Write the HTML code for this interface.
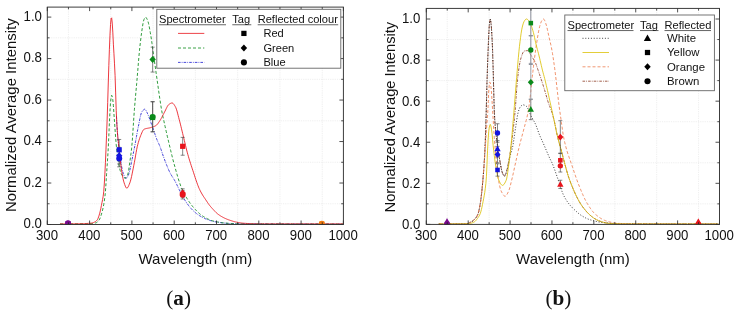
<!DOCTYPE html>
<html><head><meta charset="utf-8"><title>Spectra</title>
<style>
html,body{margin:0;padding:0;background:#fff;}
body{width:737px;height:315px;overflow:hidden;}
svg{display:block;will-change:transform;}
text{font-family:"Liberation Sans",sans-serif;fill:#111;}
.tk{font-size:13.2px;}
.ax{font-size:15px;}
.lg{font-size:11.1px;}
.cap{font-family:"Liberation Serif",serif;font-size:21.2px;}
</style></head><body>
<svg width="737" height="315" viewBox="0 0 737 315">
<rect width="737" height="315" fill="#fff"/>
<clipPath id="ca"><rect x="47.30" y="7.10" width="296.10" height="217.70"/></clipPath>
<path d="M68.45 7.10 V224.50 M110.75 7.10 V224.50 M153.05 7.10 V224.50 M195.35 7.10 V224.50 M237.65 7.10 V224.50 M279.95 7.10 V224.50 M322.25 7.10 V224.50 M47.30 203.76 H343.40 M47.30 162.28 H343.40 M47.30 120.80 H343.40 M47.30 79.32 H343.40 M47.30 37.84 H343.40" stroke="#e2e2e2" stroke-width="0.7" stroke-dasharray="0.8 1" fill="none"/>
<g clip-path="url(#ca)">
<path d="M116.46 116.17 L116.92 125.06 L117.37 132.03 L117.82 137.53 L118.28 142.15 L118.73 146.26 L119.19 150.14 L119.64 153.75 L120.10 157.09 L120.55 160.14 L121.01 162.91 L121.46 165.55 L121.92 168.05 L122.37 170.26 L122.83 172.06 L123.28 173.41 L123.74 174.70 L124.19 175.89 L124.65 176.94 L125.10 177.76 L125.56 178.29 L126.01 178.46 L126.47 178.26 L126.92 177.77 L127.38 177.05 L127.83 176.18 L128.29 175.22 L128.74 174.19 L129.19 172.78 L129.65 171.02 L130.10 169.00 L130.56 166.81 L131.01 164.53 L131.47 162.27 L131.92 160.10 L132.38 157.96 L132.83 155.76 L133.29 153.51 L133.74 151.22 L134.20 148.89 L134.65 146.54 L135.11 144.15 L135.56 141.65 L136.02 139.08 L136.47 136.49 L136.93 133.93 L137.38 131.43 L137.84 129.04 L138.29 126.81 L138.75 124.55 L139.20 122.21 L139.65 119.87 L140.11 117.65 L140.56 115.62 L141.02 113.91 L141.47 112.59 L141.93 111.76 L142.38 111.13 L142.84 110.56 L143.29 110.06 L143.75 109.65 L144.20 109.36 L144.66 109.21 L145.11 109.26 L145.57 109.75 L146.02 110.55 L146.48 111.45 L146.93 112.30 L147.39 113.23 L147.84 114.26 L148.30 115.36 L148.75 116.53 L149.21 117.75 L149.66 119.01 L150.11 120.29 L150.57 121.58 L151.02 122.86 L151.48 124.13 L151.93 125.36 L152.39 126.63 L152.84 127.93 L153.30 129.25 L153.75 130.60 L154.21 131.95 L154.66 133.29 L155.12 134.63 L155.57 135.94 L156.03 137.22 L156.48 138.46 L156.94 139.65 L157.39 140.77 L157.85 141.80 L158.30 142.76 L158.76 143.71 L159.21 144.68 L159.67 145.73 L160.12 146.89 L160.57 148.14 L161.03 149.45 L161.48 150.81 L161.94 152.19 L162.39 153.57 L162.85 154.92 L163.30 156.22 L163.76 157.45 L164.21 158.66 L164.67 159.88 L165.12 161.08 L165.58 162.28 L166.03 163.46 L166.49 164.63 L166.94 165.78 L167.40 166.91 L167.85 168.00 L168.31 169.07 L168.76 170.10 L169.22 171.10 L169.67 172.05 L170.13 172.95 L170.58 173.81 L171.04 174.61 L171.49 175.38 L171.94 176.11 L172.40 176.83 L172.85 177.54 L173.31 178.25 L173.76 178.98 L174.22 179.72 L174.67 180.49 L175.13 181.30 L175.58 182.16 L176.04 183.04 L176.49 183.96 L176.95 184.89 L177.40 185.85 L177.86 186.81 L178.31 187.79 L178.77 188.77 L179.22 189.74 L179.68 190.71 L180.13 191.66 L180.59 192.60 L181.04 193.51 L181.50 194.40 L181.95 195.25 L182.40 196.06 L182.86 196.84 L183.31 197.60 L183.77 198.35 L184.22 199.09 L184.68 199.83 L185.13 200.55 L185.59 201.26 L186.04 201.95 L186.50 202.64 L186.95 203.31 L187.41 203.96 L187.86 204.59 L188.32 205.21 L188.77 205.81 L189.23 206.39 L189.68 206.95 L190.14 207.49 L190.59 208.00 L191.05 208.49 L191.50 208.98 L191.96 209.45 L192.41 209.91 L192.86 210.36 L193.32 210.80 L193.77 211.23 L194.23 211.65 L194.68 212.06 L195.14 212.45 L195.59 212.84 L196.05 213.21 L196.50 213.57 L196.96 213.92 L197.41 214.26 L197.87 214.58 L198.32 214.89 L198.78 215.20 L199.23 215.49 L199.69 215.77 L200.14 216.05 L200.60 216.33 L201.05 216.59 L201.51 216.85 L201.96 217.10 L202.42 217.35 L202.87 217.59 L203.33 217.82 L203.78 218.04 L204.23 218.26 L204.69 218.47 L205.14 218.67 L205.60 218.86 L206.05 219.04 L206.51 219.22 L206.96 219.38 L207.42 219.55 L207.87 219.71 L208.33 219.87 L208.78 220.02 L209.24 220.18 L209.69 220.33 L210.15 220.47 L210.60 220.61 L211.06 220.75 L211.51 220.89 L211.97 221.02 L212.42 221.14 L212.88 221.26 L213.33 221.37 L213.79 221.48 L214.24 221.59 L214.69 221.69 L215.15 221.78 L215.60 221.86 L216.06 221.94 L216.51 222.01 L216.97 222.08 L217.42 222.15 L217.88 222.22 L218.33 222.28 L218.79 222.35 L219.24 222.42 L219.70 222.48 L220.15 222.54 L220.61 222.61 L221.06 222.67 L221.52 222.73 L221.97 222.79 L222.43 222.85 L222.88 222.90 L223.34 222.96 L223.79 223.01 L224.25 223.06 L224.70 223.11 L225.15 223.16 L225.61 223.21 L226.06 223.25 L226.52 223.30 L226.97 223.34 L227.43 223.38 L227.88 223.41 L228.34 223.45 L228.79 223.48 L229.25 223.51 L229.70 223.54 L230.16 223.57 L230.61 223.59 L231.07 223.61 L231.52 223.63 L231.98 223.64 L232.43 223.65 L232.89 223.66 L233.34 223.67 L233.80 223.67 L234.25 223.68 L234.71 223.68 L235.16 223.69 L235.62 223.69 L236.07 223.69 L236.52 223.70 L236.98 223.70 L237.43 223.71 L237.89 223.71 L238.34 223.72 L238.80 223.72 L239.25 223.72 L239.71 223.73 L240.16 223.73 L240.62 223.73 L241.07 223.74 L241.53 223.74 L241.98 223.75 L242.44 223.75 L242.89 223.75 L243.35 223.76 L243.80 223.76 L244.26 223.76 L244.71 223.77 L245.17 223.77 L245.62 223.78 L246.08 223.78 L246.53 223.78 L246.98 223.79 L247.44 223.79 L247.89 223.79 L248.35 223.80 L248.80 223.80 L249.26 223.80 L249.71 223.81 L250.17 223.81 L250.62 223.81 L251.08 223.82 L251.53 223.82 L251.99 223.82 L252.44 223.83 L252.90 223.83 L253.35 223.83 L253.81 223.83 L254.26 223.84 L254.72 223.84 L255.17 223.84 L255.63 223.85 L256.08 223.85 L256.54 223.85 L256.99 223.86 L257.44 223.86 L257.90 223.86 L258.35 223.86 L258.81 223.87 L259.26 223.87 L259.72 223.87 L260.17 223.88 L260.63 223.88 L261.08 223.88 L261.54 223.88 L261.99 223.89 L262.45 223.89 L262.90 223.89 L263.36 223.89 L263.81 223.90 L264.27 223.90 L264.72 223.90 L265.18 223.91 L265.63 223.91 L266.09 223.91 L266.54 223.91 L267.00 223.91 L267.45 223.92 L267.91 223.92 L268.36 223.92 L268.81 223.92 L269.27 223.93 L269.72 223.93 L270.18 223.93 L270.63 223.93 L271.09 223.94 L271.54 223.94 L272.00 223.94 L272.45 223.94 L272.91 223.94 L273.36 223.95 L273.82 223.95 L274.27 223.95 L274.73 223.95 L275.18 223.96 L275.64 223.96 L276.09 223.96 L276.55 223.96 L277.00 223.96 L277.46 223.97 L277.91 223.97 L278.37 223.97 L278.82 223.97 L279.27 223.97 L279.73 223.97 L280.18 223.98 L280.64 223.98 L281.09 223.98 L281.55 223.98 L282.00 223.98 L282.46 223.99 L282.91 223.99 L283.37 223.99 L283.82 223.99 L284.28 223.99 L284.73 223.99 L285.19 224.00 L285.64 224.00 L286.10 224.00 L286.55 224.00 L287.01 224.00 L287.46 224.00 L287.92 224.01 L288.37 224.01 L288.83 224.01 L289.28 224.01 L289.73 224.01 L290.19 224.01 L290.64 224.01 L291.10 224.02 L291.55 224.02 L292.01 224.02 L292.46 224.02 L292.92 224.02 L293.37 224.02 L293.83 224.02 L294.28 224.02 L294.74 224.03 L295.19 224.03 L295.65 224.03 L296.10 224.03 L296.56 224.03 L297.01 224.03 L297.47 224.03 L297.92 224.03 L298.38 224.04 L298.83 224.04 L299.29 224.04 L299.74 224.04 L300.20 224.04 L300.65 224.04 L301.10 224.04 L301.56 224.04 L302.01 224.04 L302.47 224.05 L302.92 224.05 L303.38 224.05 L303.83 224.05 L304.29 224.05 L304.74 224.05 L305.20 224.05 L305.65 224.05 L306.11 224.05 L306.56 224.05 L307.02 224.05 L307.47 224.06 L307.93 224.06 L308.38 224.06 L308.84 224.06 L309.29 224.06 L309.75 224.06 L310.20 224.06 L310.66 224.06 L311.11 224.06 L311.56 224.06 L312.02 224.06 L312.47 224.06 L312.93 224.06 L313.38 224.07 L313.84 224.07 L314.29 224.07 L314.75 224.07 L315.20 224.07 L315.66 224.07 L316.11 224.07 L316.57 224.07 L317.02 224.07 L317.48 224.07 L317.93 224.07 L318.39 224.07 L318.84 224.07 L319.30 224.07 L319.75 224.07 L320.21 224.07 L320.66 224.07 L321.12 224.07 L321.57 224.08 L322.02 224.08 L322.48 224.08 L322.93 224.08 L323.39 224.08 L323.84 224.08 L324.30 224.08 L324.75 224.08 L325.21 224.08 L325.66 224.08 L326.12 224.08 L326.57 224.08 L327.03 224.08 L327.48 224.08 L327.94 224.08 L328.39 224.08 L328.85 224.08 L329.30 224.08 L329.76 224.08 L330.21 224.08 L330.67 224.08 L331.12 224.08 L331.58 224.08 L332.03 224.08 L332.49 224.08 L332.94 224.08 L333.39 224.08 L333.85 224.08 L334.30 224.08 L334.76 224.08 L335.21 224.08 L335.67 224.08 L336.12 224.08 L336.58 224.08 L337.03 224.08 L337.49 224.08 L337.94 224.08 L338.40 224.08 L338.85 224.08 L339.31 224.08 L339.76 224.08 L340.22 224.09 L340.67 224.09 L341.13 224.09 L341.58 224.09 L342.04 224.09 L342.49 224.09 L342.95 224.09 L343.40 224.09" stroke="#1a1ad0" stroke-width="0.85" fill="none" stroke-linejoin="round" stroke-dasharray="2.6 1.1 0.8 1.1"/>
<path d="M59.99 223.88 L60.56 223.88 L61.13 223.88 L61.69 223.88 L62.26 223.88 L62.83 223.88 L63.40 223.88 L63.97 223.88 L64.53 223.87 L65.10 223.87 L65.67 223.87 L66.24 223.87 L66.81 223.87 L67.37 223.87 L67.94 223.87 L68.51 223.86 L69.08 223.86 L69.65 223.86 L70.21 223.86 L70.78 223.86 L71.35 223.85 L71.92 223.85 L72.49 223.85 L73.05 223.85 L73.62 223.84 L74.19 223.84 L74.76 223.84 L75.32 223.83 L75.89 223.83 L76.46 223.82 L77.03 223.82 L77.60 223.82 L78.16 223.81 L78.73 223.81 L79.30 223.80 L79.87 223.80 L80.44 223.79 L81.00 223.78 L81.57 223.78 L82.14 223.77 L82.71 223.77 L83.28 223.76 L83.84 223.75 L84.41 223.75 L84.98 223.74 L85.55 223.73 L86.12 223.72 L86.68 223.72 L87.25 223.71 L87.82 223.70 L88.39 223.69 L88.96 223.68 L89.52 223.67 L90.09 223.66 L90.66 223.63 L91.23 223.60 L91.80 223.55 L92.36 223.49 L92.93 223.42 L93.50 223.34 L94.07 223.24 L94.64 223.13 L95.20 223.01 L95.77 222.88 L96.34 222.70 L96.91 222.38 L97.48 221.93 L98.04 221.37 L98.61 220.72 L99.18 219.97 L99.75 218.92 L100.31 217.57 L100.88 215.98 L101.45 214.18 L102.02 212.23 L102.59 210.06 L103.15 207.54 L103.72 204.59 L104.29 201.11 L104.86 197.00 L105.43 191.70 L105.99 183.48 L106.56 174.23 L107.13 165.76 L107.70 157.38 L108.27 148.01 L108.83 135.79 L109.40 122.37 L109.97 111.23 L110.54 102.09 L111.11 97.64 L111.67 95.35 L112.24 96.45 L112.81 99.71 L113.38 105.54 L113.95 114.02 L114.51 121.85 L115.08 129.98 L115.65 137.85 L116.22 144.69 L116.79 150.30 L117.35 155.34 L117.92 159.63 L118.49 162.93 L119.06 165.74 L119.63 168.31 L120.19 170.57 L120.76 172.46 L121.33 173.94 L121.90 174.95 L122.47 175.80 L123.03 176.56 L123.60 177.21 L124.17 177.69 L124.74 177.98 L125.30 178.02 L125.87 177.69 L126.44 177.02 L127.01 176.07 L127.58 174.93 L128.14 173.06 L128.71 169.81 L129.28 165.84 L129.85 161.85 L130.42 157.94 L130.98 153.70 L131.55 148.85 L132.12 142.96 L132.69 135.17 L133.26 126.30 L133.82 117.48 L134.39 109.77 L134.96 102.87 L135.53 96.32 L136.10 89.95 L136.66 83.59 L137.23 77.06 L137.80 70.15 L138.37 63.12 L138.94 56.39 L139.50 50.38 L140.07 45.06 L140.64 40.10 L141.21 35.54 L141.78 31.40 L142.34 27.62 L142.91 24.00 L143.48 21.12 L144.05 19.38 L144.62 18.02 L145.18 17.20 L145.75 17.20 L146.32 17.81 L146.89 18.81 L147.46 20.00 L148.02 21.50 L148.59 23.67 L149.16 26.34 L149.73 29.34 L150.29 32.49 L150.86 35.75 L151.43 39.48 L152.00 43.56 L152.57 47.80 L153.13 52.01 L153.70 56.04 L154.27 60.01 L154.84 63.97 L155.41 67.93 L155.97 71.90 L156.54 75.87 L157.11 79.86 L157.68 83.91 L158.25 87.97 L158.81 91.96 L159.38 95.83 L159.95 99.61 L160.52 103.37 L161.09 106.98 L161.65 110.35 L162.22 113.38 L162.79 116.09 L163.36 118.65 L163.93 121.21 L164.49 123.78 L165.06 126.33 L165.63 128.86 L166.20 131.37 L166.77 133.86 L167.33 136.32 L167.90 138.76 L168.47 141.18 L169.04 143.58 L169.61 145.96 L170.17 148.35 L170.74 150.72 L171.31 153.08 L171.88 155.40 L172.45 157.68 L173.01 159.91 L173.58 162.08 L174.15 164.17 L174.72 166.22 L175.29 168.27 L175.85 170.31 L176.42 172.33 L176.99 174.32 L177.56 176.27 L178.12 178.17 L178.69 180.00 L179.26 181.77 L179.83 183.45 L180.40 185.05 L180.96 186.54 L181.53 187.92 L182.10 189.22 L182.67 190.46 L183.24 191.65 L183.80 192.79 L184.37 193.88 L184.94 194.93 L185.51 195.94 L186.08 196.91 L186.64 197.86 L187.21 198.78 L187.78 199.68 L188.35 200.56 L188.92 201.42 L189.48 202.25 L190.05 203.06 L190.62 203.85 L191.19 204.61 L191.76 205.35 L192.32 206.07 L192.89 206.75 L193.46 207.42 L194.03 208.06 L194.60 208.68 L195.16 209.29 L195.73 209.89 L196.30 210.49 L196.87 211.07 L197.44 211.64 L198.00 212.19 L198.57 212.73 L199.14 213.25 L199.71 213.75 L200.28 214.24 L200.84 214.70 L201.41 215.13 L201.98 215.55 L202.55 215.94 L203.11 216.30 L203.68 216.65 L204.25 216.99 L204.82 217.33 L205.39 217.65 L205.95 217.97 L206.52 218.28 L207.09 218.58 L207.66 218.87 L208.23 219.14 L208.79 219.41 L209.36 219.66 L209.93 219.90 L210.50 220.13 L211.07 220.34 L211.63 220.54 L212.20 220.72 L212.77 220.88 L213.34 221.03 L213.91 221.17 L214.47 221.31 L215.04 221.45 L215.61 221.58 L216.18 221.71 L216.75 221.83 L217.31 221.95 L217.88 222.06 L218.45 222.17 L219.02 222.27 L219.59 222.37 L220.15 222.47 L220.72 222.55 L221.29 222.64 L221.86 222.72 L222.43 222.79 L222.99 222.86 L223.56 222.92 L224.13 222.98 L224.70 223.03 L225.27 223.07 L225.83 223.12 L226.40 223.16 L226.97 223.20 L227.54 223.25 L228.10 223.29 L228.67 223.33 L229.24 223.37 L229.81 223.40 L230.38 223.44 L230.94 223.48 L231.51 223.51 L232.08 223.55 L232.65 223.58 L233.22 223.61 L233.78 223.64 L234.35 223.67 L234.92 223.69 L235.49 223.72 L236.06 223.74 L236.62 223.76 L237.19 223.78 L237.76 223.80 L238.33 223.82 L238.90 223.83 L239.46 223.85 L240.03 223.86 L240.60 223.87 L241.17 223.87 L241.74 223.88 L242.30 223.88 L242.87 223.88 L243.44 223.89 L244.01 223.89 L244.58 223.89 L245.14 223.89 L245.71 223.90 L246.28 223.90 L246.85 223.90 L247.42 223.90 L247.98 223.91 L248.55 223.91 L249.12 223.91 L249.69 223.91 L250.26 223.92 L250.82 223.92 L251.39 223.92 L251.96 223.92 L252.53 223.93 L253.10 223.93 L253.66 223.93 L254.23 223.93 L254.80 223.94 L255.37 223.94 L255.93 223.94 L256.50 223.94 L257.07 223.95 L257.64 223.95 L258.21 223.95 L258.77 223.95 L259.34 223.95 L259.91 223.96 L260.48 223.96 L261.05 223.96 L261.61 223.96 L262.18 223.96 L262.75 223.97 L263.32 223.97 L263.89 223.97 L264.45 223.97 L265.02 223.97 L265.59 223.98 L266.16 223.98 L266.73 223.98 L267.29 223.98 L267.86 223.98 L268.43 223.99 L269.00 223.99 L269.57 223.99 L270.13 223.99 L270.70 223.99 L271.27 223.99 L271.84 224.00 L272.41 224.00 L272.97 224.00 L273.54 224.00 L274.11 224.00 L274.68 224.00 L275.25 224.01 L275.81 224.01 L276.38 224.01 L276.95 224.01 L277.52 224.01 L278.09 224.01 L278.65 224.01 L279.22 224.02 L279.79 224.02 L280.36 224.02 L280.92 224.02 L281.49 224.02 L282.06 224.02 L282.63 224.02 L283.20 224.03 L283.76 224.03 L284.33 224.03 L284.90 224.03 L285.47 224.03 L286.04 224.03 L286.60 224.03 L287.17 224.03 L287.74 224.04 L288.31 224.04 L288.88 224.04 L289.44 224.04 L290.01 224.04 L290.58 224.04 L291.15 224.04 L291.72 224.04 L292.28 224.04 L292.85 224.05 L293.42 224.05 L293.99 224.05 L294.56 224.05 L295.12 224.05 L295.69 224.05 L296.26 224.05 L296.83 224.05 L297.40 224.05 L297.96 224.05 L298.53 224.06 L299.10 224.06 L299.67 224.06 L300.24 224.06 L300.80 224.06 L301.37 224.06 L301.94 224.06 L302.51 224.06 L303.08 224.06 L303.64 224.06 L304.21 224.06 L304.78 224.06 L305.35 224.06 L305.91 224.07 L306.48 224.07 L307.05 224.07 L307.62 224.07 L308.19 224.07 L308.75 224.07 L309.32 224.07 L309.89 224.07 L310.46 224.07 L311.03 224.07 L311.59 224.07 L312.16 224.07 L312.73 224.07 L313.30 224.07 L313.87 224.07 L314.43 224.07 L315.00 224.07 L315.57 224.07 L316.14 224.08 L316.71 224.08 L317.27 224.08 L317.84 224.08 L318.41 224.08 L318.98 224.08 L319.55 224.08 L320.11 224.08 L320.68 224.08 L321.25 224.08 L321.82 224.08 L322.39 224.08 L322.95 224.08 L323.52 224.08 L324.09 224.08 L324.66 224.08 L325.23 224.08 L325.79 224.08 L326.36 224.08 L326.93 224.08 L327.50 224.08 L328.07 224.08 L328.63 224.08 L329.20 224.08 L329.77 224.08 L330.34 224.08 L330.90 224.08 L331.47 224.08 L332.04 224.08 L332.61 224.08 L333.18 224.08 L333.74 224.08 L334.31 224.08 L334.88 224.08 L335.45 224.08 L336.02 224.08 L336.58 224.08 L337.15 224.08 L337.72 224.08 L338.29 224.08 L338.86 224.08 L339.42 224.09 L339.99 224.09 L340.56 224.09 L341.13 224.09 L341.70 224.09 L342.26 224.09 L342.83 224.09 L343.40 224.09" stroke="#0a8a1a" stroke-width="0.85" fill="none" stroke-linejoin="round" stroke-dasharray="3 2"/>
<path d="M59.99 223.88 L60.56 223.88 L61.13 223.88 L61.69 223.88 L62.26 223.88 L62.83 223.87 L63.40 223.87 L63.97 223.87 L64.53 223.87 L65.10 223.86 L65.67 223.86 L66.24 223.86 L66.81 223.85 L67.37 223.85 L67.94 223.85 L68.51 223.84 L69.08 223.84 L69.65 223.83 L70.21 223.83 L70.78 223.82 L71.35 223.81 L71.92 223.81 L72.49 223.80 L73.05 223.79 L73.62 223.79 L74.19 223.78 L74.76 223.77 L75.32 223.76 L75.89 223.76 L76.46 223.75 L77.03 223.74 L77.60 223.73 L78.16 223.72 L78.73 223.71 L79.30 223.70 L79.87 223.69 L80.44 223.68 L81.00 223.67 L81.57 223.66 L82.14 223.65 L82.71 223.64 L83.28 223.62 L83.84 223.60 L84.41 223.58 L84.98 223.56 L85.55 223.53 L86.12 223.51 L86.68 223.47 L87.25 223.44 L87.82 223.40 L88.39 223.36 L88.96 223.32 L89.52 223.27 L90.09 223.22 L90.66 223.16 L91.23 223.10 L91.80 223.04 L92.36 222.93 L92.93 222.76 L93.50 222.55 L94.07 222.30 L94.64 222.03 L95.20 221.72 L95.77 221.35 L96.34 220.88 L96.91 220.30 L97.48 219.56 L98.04 218.39 L98.61 216.87 L99.18 215.11 L99.75 213.20 L100.31 210.89 L100.88 208.22 L101.45 205.33 L102.02 202.38 L102.59 199.58 L103.15 196.39 L103.72 191.81 L104.29 183.97 L104.86 174.18 L105.43 162.55 L105.99 149.23 L106.56 135.20 L107.13 119.94 L107.70 102.56 L108.27 82.99 L108.83 65.41 L109.40 49.26 L109.97 35.17 L110.54 24.36 L111.11 18.39 L111.67 17.83 L112.24 23.07 L112.81 32.12 L113.38 44.16 L113.95 53.69 L114.51 63.83 L115.08 75.60 L115.65 92.92 L116.22 110.66 L116.79 122.79 L117.35 131.79 L117.92 138.06 L118.49 143.19 L119.06 148.48 L119.63 153.98 L120.19 159.35 L120.76 164.30 L121.33 168.53 L121.90 172.23 L122.47 175.66 L123.03 178.67 L123.60 181.10 L124.17 182.92 L124.74 184.61 L125.30 186.13 L125.87 187.32 L126.44 188.05 L127.01 188.17 L127.58 187.72 L128.14 186.83 L128.71 185.63 L129.28 184.27 L129.85 182.86 L130.42 181.17 L130.98 179.05 L131.55 176.59 L132.12 173.90 L132.69 171.05 L133.26 168.15 L133.82 165.29 L134.39 162.43 L134.96 159.26 L135.53 155.93 L136.10 152.62 L136.66 149.50 L137.23 146.74 L137.80 144.46 L138.37 142.38 L138.94 140.47 L139.50 138.71 L140.07 137.11 L140.64 135.66 L141.21 134.31 L141.78 132.94 L142.34 131.67 L142.91 130.56 L143.48 129.74 L144.05 129.28 L144.62 129.03 L145.18 128.82 L145.75 128.65 L146.32 128.51 L146.89 128.39 L147.46 128.29 L148.02 128.19 L148.59 128.09 L149.16 127.98 L149.73 127.86 L150.29 127.71 L150.86 127.54 L151.43 127.37 L152.00 127.20 L152.57 127.02 L153.13 126.83 L153.70 126.63 L154.27 126.40 L154.84 126.15 L155.41 125.87 L155.97 125.54 L156.54 125.11 L157.11 124.54 L157.68 123.86 L158.25 123.10 L158.81 122.28 L159.38 121.44 L159.95 120.60 L160.52 119.70 L161.09 118.71 L161.65 117.66 L162.22 116.57 L162.79 115.45 L163.36 114.33 L163.93 113.22 L164.49 112.15 L165.06 111.08 L165.63 109.91 L166.20 108.70 L166.77 107.52 L167.33 106.44 L167.90 105.52 L168.47 104.82 L169.04 104.37 L169.61 103.96 L170.17 103.60 L170.74 103.30 L171.31 103.08 L171.88 102.97 L172.45 103.03 L173.01 103.37 L173.58 103.96 L174.15 104.73 L174.72 105.63 L175.29 106.59 L175.85 107.68 L176.42 109.18 L176.99 111.02 L177.56 113.10 L178.12 115.32 L178.69 117.57 L179.26 119.76 L179.83 121.90 L180.40 124.13 L180.96 126.43 L181.53 128.78 L182.10 131.15 L182.67 133.53 L183.24 135.88 L183.80 138.20 L184.37 140.56 L184.94 142.95 L185.51 145.34 L186.08 147.70 L186.64 150.00 L187.21 152.21 L187.78 154.29 L188.35 156.28 L188.92 158.21 L189.48 160.08 L190.05 161.90 L190.62 163.68 L191.19 165.43 L191.76 167.15 L192.32 168.87 L192.89 170.58 L193.46 172.29 L194.03 174.03 L194.60 175.78 L195.16 177.52 L195.73 179.25 L196.30 180.95 L196.87 182.59 L197.44 184.18 L198.00 185.69 L198.57 187.12 L199.14 188.44 L199.71 189.67 L200.28 190.83 L200.84 191.93 L201.41 192.97 L201.98 193.98 L202.55 194.94 L203.11 195.86 L203.68 196.73 L204.25 197.58 L204.82 198.42 L205.39 199.25 L205.95 200.09 L206.52 200.96 L207.09 201.82 L207.66 202.68 L208.23 203.52 L208.79 204.32 L209.36 205.07 L209.93 205.79 L210.50 206.47 L211.07 207.13 L211.63 207.77 L212.20 208.40 L212.77 209.02 L213.34 209.63 L213.91 210.25 L214.47 210.87 L215.04 211.48 L215.61 212.07 L216.18 212.63 L216.75 213.15 L217.31 213.62 L217.88 214.07 L218.45 214.50 L219.02 214.90 L219.59 215.29 L220.15 215.66 L220.72 216.02 L221.29 216.36 L221.86 216.69 L222.43 217.01 L222.99 217.32 L223.56 217.62 L224.13 217.91 L224.70 218.19 L225.27 218.45 L225.83 218.70 L226.40 218.95 L226.97 219.18 L227.54 219.41 L228.10 219.63 L228.67 219.84 L229.24 220.04 L229.81 220.23 L230.38 220.42 L230.94 220.61 L231.51 220.79 L232.08 220.97 L232.65 221.14 L233.22 221.31 L233.78 221.48 L234.35 221.64 L234.92 221.79 L235.49 221.93 L236.06 222.06 L236.62 222.18 L237.19 222.29 L237.76 222.40 L238.33 222.50 L238.90 222.60 L239.46 222.70 L240.03 222.79 L240.60 222.88 L241.17 222.96 L241.74 223.03 L242.30 223.10 L242.87 223.16 L243.44 223.21 L244.01 223.26 L244.58 223.30 L245.14 223.33 L245.71 223.37 L246.28 223.41 L246.85 223.45 L247.42 223.48 L247.98 223.51 L248.55 223.55 L249.12 223.58 L249.69 223.61 L250.26 223.64 L250.82 223.67 L251.39 223.69 L251.96 223.72 L252.53 223.74 L253.10 223.77 L253.66 223.79 L254.23 223.80 L254.80 223.82 L255.37 223.84 L255.93 223.85 L256.50 223.86 L257.07 223.87 L257.64 223.87 L258.21 223.88 L258.77 223.88 L259.34 223.88 L259.91 223.88 L260.48 223.88 L261.05 223.88 L261.61 223.88 L262.18 223.88 L262.75 223.88 L263.32 223.88 L263.89 223.88 L264.45 223.88 L265.02 223.88 L265.59 223.88 L266.16 223.88 L266.73 223.88 L267.29 223.88 L267.86 223.88 L268.43 223.88 L269.00 223.88 L269.57 223.88 L270.13 223.88 L270.70 223.88 L271.27 223.88 L271.84 223.88 L272.41 223.88 L272.97 223.88 L273.54 223.88 L274.11 223.88 L274.68 223.88 L275.25 223.88 L275.81 223.88 L276.38 223.88 L276.95 223.88 L277.52 223.88 L278.09 223.88 L278.65 223.88 L279.22 223.88 L279.79 223.88 L280.36 223.88 L280.92 223.88 L281.49 223.88 L282.06 223.88 L282.63 223.88 L283.20 223.88 L283.76 223.88 L284.33 223.88 L284.90 223.88 L285.47 223.88 L286.04 223.88 L286.60 223.88 L287.17 223.88 L287.74 223.88 L288.31 223.88 L288.88 223.88 L289.44 223.88 L290.01 223.88 L290.58 223.88 L291.15 223.88 L291.72 223.88 L292.28 223.88 L292.85 223.88 L293.42 223.88 L293.99 223.88 L294.56 223.88 L295.12 223.88 L295.69 223.88 L296.26 223.88 L296.83 223.88 L297.40 223.88 L297.96 223.88 L298.53 223.88 L299.10 223.88 L299.67 223.88 L300.24 223.88 L300.80 223.88 L301.37 223.88 L301.94 223.88 L302.51 223.88 L303.08 223.88 L303.64 223.88 L304.21 223.88 L304.78 223.88 L305.35 223.88 L305.91 223.88 L306.48 223.88 L307.05 223.88 L307.62 223.88 L308.19 223.88 L308.75 223.88 L309.32 223.88 L309.89 223.88 L310.46 223.88 L311.03 223.88 L311.59 223.88 L312.16 223.88 L312.73 223.88 L313.30 223.88 L313.87 223.88 L314.43 223.88 L315.00 223.88 L315.57 223.88 L316.14 223.88 L316.71 223.88 L317.27 223.88 L317.84 223.88 L318.41 223.88 L318.98 223.88 L319.55 223.88 L320.11 223.88 L320.68 223.88 L321.25 223.88 L321.82 223.88 L322.39 223.88 L322.95 223.88 L323.52 223.88 L324.09 223.88 L324.66 223.88 L325.23 223.88 L325.79 223.88 L326.36 223.88 L326.93 223.88 L327.50 223.88 L328.07 223.88 L328.63 223.88 L329.20 223.88 L329.77 223.88 L330.34 223.88 L330.90 223.88 L331.47 223.88 L332.04 223.88 L332.61 223.88 L333.18 223.88 L333.74 223.88 L334.31 223.88 L334.88 223.88 L335.45 223.88 L336.02 223.88 L336.58 223.88 L337.15 223.88 L337.72 223.88 L338.29 223.88 L338.86 223.88 L339.42 223.88 L339.99 223.88 L340.56 223.88 L341.13 223.88 L341.70 223.88 L342.26 223.88 L342.83 223.88 L343.40 223.88" stroke="#e8141c" stroke-width="0.85" fill="none" stroke-linejoin="round"/>
<path d="M119.21 139.47 V160.21 M117.21 139.47 h4.00 M117.21 160.21 h4.00" stroke="#444" stroke-width="0.65" fill="none"/>
<path d="M119.21 150.25 V166.84 M117.21 150.25 h4.00 M117.21 166.84 h4.00" stroke="#444" stroke-width="0.65" fill="none"/>
<path d="M119.21 147.35 V163.94 M117.21 147.35 h4.00 M117.21 163.94 h4.00" stroke="#444" stroke-width="0.65" fill="none"/>
<path d="M152.63 47.17 V72.06 M150.63 47.17 h4.00 M150.63 72.06 h4.00" stroke="#444" stroke-width="0.65" fill="none"/>
<path d="M152.63 101.93 V132.00 M150.63 101.93 h4.00 M150.63 132.00 h4.00" stroke="#444" stroke-width="0.65" fill="none"/>
<path d="M152.63 101.51 V131.58 M150.63 101.51 h4.00 M150.63 131.58 h4.00" stroke="#444" stroke-width="0.65" fill="none"/>
<path d="M182.66 137.39 V155.23 M180.66 137.39 h4.00 M180.66 155.23 h4.00" stroke="#444" stroke-width="0.65" fill="none"/>
<path d="M182.66 188.83 V197.12 M180.66 188.83 h4.00 M180.66 197.12 h4.00" stroke="#444" stroke-width="0.65" fill="none"/>
<path d="M182.66 190.69 V198.99 M180.66 190.69 h4.00 M180.66 198.99 h4.00" stroke="#444" stroke-width="0.65" fill="none"/>
<rect x="65.45" y="221.09" width="5.16" height="5.16" fill="#7a0a8c"/>
<circle cx="68.03" cy="223.26" r="3.00" fill="#7a0a8c"/>
<path d="M68.03 220.17 L71.23 223.67 L68.03 227.17 L64.83 223.67Z" fill="#7a0a8c"/>
<rect x="319.25" y="221.51" width="5.16" height="5.16" fill="#f07a10"/>
<circle cx="321.83" cy="223.67" r="3.00" fill="#f07a10"/>
<rect x="116.63" y="147.26" width="5.16" height="5.16" fill="#1414e0"/>
<circle cx="119.21" cy="158.55" r="3.00" fill="#1414e0"/>
<path d="M119.21 152.14 L122.41 155.64 L119.21 159.14 L116.01 155.64Z" fill="#1414e0"/>
<path d="M152.63 56.12 L155.83 59.62 L152.63 63.12 L149.43 59.62Z" fill="#0a8a1a"/>
<rect x="150.05" y="114.90" width="5.16" height="5.16" fill="#0a8a1a"/>
<circle cx="152.63" cy="117.07" r="3.00" fill="#0a8a1a"/>
<rect x="180.08" y="143.73" width="5.16" height="5.16" fill="#e8141c"/>
<path d="M182.66 189.48 L185.86 192.98 L182.66 196.48 L179.46 192.98Z" fill="#e8141c"/>
<circle cx="182.66" cy="194.84" r="3.00" fill="#e8141c"/>
</g>
<path d="M47.30 224.50 v-4.00 M47.30 7.10 v4.00 M68.45 224.50 v-2.20 M68.45 7.10 v2.20 M89.60 224.50 v-4.00 M89.60 7.10 v4.00 M110.75 224.50 v-2.20 M110.75 7.10 v2.20 M131.90 224.50 v-4.00 M131.90 7.10 v4.00 M153.05 224.50 v-2.20 M153.05 7.10 v2.20 M174.20 224.50 v-4.00 M174.20 7.10 v4.00 M195.35 224.50 v-2.20 M195.35 7.10 v2.20 M216.50 224.50 v-4.00 M216.50 7.10 v4.00 M237.65 224.50 v-2.20 M237.65 7.10 v2.20 M258.80 224.50 v-4.00 M258.80 7.10 v4.00 M279.95 224.50 v-2.20 M279.95 7.10 v2.20 M301.10 224.50 v-4.00 M301.10 7.10 v4.00 M322.25 224.50 v-2.20 M322.25 7.10 v2.20 M343.40 224.50 v-4.00 M343.40 7.10 v4.00 M47.30 224.50 h4.00 M343.40 224.50 h-4.00 M47.30 203.76 h2.20 M343.40 203.76 h-2.20 M47.30 183.02 h4.00 M343.40 183.02 h-4.00 M47.30 162.28 h2.20 M343.40 162.28 h-2.20 M47.30 141.54 h4.00 M343.40 141.54 h-4.00 M47.30 120.80 h2.20 M343.40 120.80 h-2.20 M47.30 100.06 h4.00 M343.40 100.06 h-4.00 M47.30 79.32 h2.20 M343.40 79.32 h-2.20 M47.30 58.58 h4.00 M343.40 58.58 h-4.00 M47.30 37.84 h2.20 M343.40 37.84 h-2.20 M47.30 17.10 h4.00 M343.40 17.10 h-4.00" stroke="#222" stroke-width="0.8" fill="none"/>
<rect x="47.30" y="7.10" width="296.10" height="217.40" fill="none" stroke="#333" stroke-width="0.95"/>
<rect x="156.80" y="9.30" width="184.00" height="58.90" fill="#fff" stroke="#666" stroke-width="0.9"/>
<text x="159.00" y="23.20" class="lg">Spectrometer</text>
<path d="M159.00 24.75 h67.00" stroke="#111" stroke-width="0.65"/>
<text x="232.30" y="23.20" class="lg">Tag</text>
<path d="M232.30 24.75 h19.00" stroke="#111" stroke-width="0.65"/>
<text x="257.70" y="23.20" class="lg">Reflected colour</text>
<path d="M257.70 24.75 h80.50" stroke="#111" stroke-width="0.65"/>
<path d="M178.00 33.40 H204.30" stroke="#e8141c" stroke-width="0.8" fill="none"/>
<rect x="241.28" y="30.78" width="5.25" height="5.25" fill="#000"/>
<text x="263.40" y="37.10" class="lg" style="font-size:11.10px">Red</text>
<path d="M178.00 48.00 H204.30" stroke="#0a8a1a" stroke-width="0.8" stroke-dasharray="3 2" fill="none"/>
<path d="M243.90 44.47 L247.13 48.00 L243.90 51.53 L240.67 48.00Z" fill="#000"/>
<text x="263.40" y="51.70" class="lg" style="font-size:11.10px">Green</text>
<path d="M178.00 62.40 H204.30" stroke="#1a1ad0" stroke-width="0.8" stroke-dasharray="2.6 1.1 0.8 1.1" fill="none"/>
<circle cx="243.90" cy="62.40" r="3.05" fill="#000"/>
<text x="263.40" y="66.10" class="lg" style="font-size:11.10px">Blue</text>
<text transform="translate(47.00 239.80) scale(1 1.06)" text-anchor="middle" class="tk">300</text>
<text transform="translate(89.30 239.80) scale(1 1.06)" text-anchor="middle" class="tk">400</text>
<text transform="translate(131.60 239.80) scale(1 1.06)" text-anchor="middle" class="tk">500</text>
<text transform="translate(173.90 239.80) scale(1 1.06)" text-anchor="middle" class="tk">600</text>
<text transform="translate(216.20 239.80) scale(1 1.06)" text-anchor="middle" class="tk">700</text>
<text transform="translate(258.50 239.80) scale(1 1.06)" text-anchor="middle" class="tk">800</text>
<text transform="translate(300.80 239.80) scale(1 1.06)" text-anchor="middle" class="tk">900</text>
<text transform="translate(343.10 239.80) scale(1 1.06)" text-anchor="middle" class="tk">1000</text>
<text transform="translate(41.90 228.30) scale(1 1.06)" text-anchor="end" class="tk">0.0</text>
<text transform="translate(41.90 186.82) scale(1 1.06)" text-anchor="end" class="tk">0.2</text>
<text transform="translate(41.90 145.34) scale(1 1.06)" text-anchor="end" class="tk">0.4</text>
<text transform="translate(41.90 103.86) scale(1 1.06)" text-anchor="end" class="tk">0.6</text>
<text transform="translate(41.90 62.38) scale(1 1.06)" text-anchor="end" class="tk">0.8</text>
<text transform="translate(41.90 20.90) scale(1 1.06)" text-anchor="end" class="tk">1.0</text>
<text x="195.35" y="263.50" text-anchor="middle" class="ax">Wavelength (nm)</text>
<text transform="translate(16.40 115.20) rotate(-90)" text-anchor="middle" class="ax" style="font-size:14.92px">Normalized Average Intensity</text>
<clipPath id="cb"><rect x="426.30" y="8.40" width="293.20" height="216.30"/></clipPath>
<path d="M447.24 8.40 V224.40 M489.13 8.40 V224.40 M531.01 8.40 V224.40 M572.90 8.40 V224.40 M614.79 8.40 V224.40 M656.67 8.40 V224.40 M698.56 8.40 V224.40 M426.30 203.86 H719.50 M426.30 162.78 H719.50 M426.30 121.70 H719.50 M426.30 80.62 H719.50 M426.30 39.54 H719.50" stroke="#e2e2e2" stroke-width="0.7" stroke-dasharray="0.8 1" fill="none"/>
<g clip-path="url(#cb)">
<path d="M438.81 223.99 L439.37 223.99 L439.93 223.99 L440.49 223.99 L441.05 223.99 L441.61 223.99 L442.17 223.99 L442.73 223.99 L443.29 223.99 L443.85 223.98 L444.41 223.98 L444.97 223.98 L445.53 223.98 L446.09 223.98 L446.65 223.98 L447.21 223.98 L447.77 223.97 L448.33 223.97 L448.89 223.97 L449.45 223.97 L450.01 223.96 L450.57 223.96 L451.13 223.96 L451.69 223.95 L452.25 223.95 L452.81 223.95 L453.37 223.94 L453.93 223.94 L454.49 223.93 L455.05 223.93 L455.61 223.92 L456.17 223.92 L456.73 223.91 L457.29 223.91 L457.85 223.90 L458.41 223.90 L458.97 223.89 L459.53 223.88 L460.09 223.88 L460.65 223.87 L461.21 223.86 L461.77 223.85 L462.33 223.84 L462.89 223.84 L463.45 223.83 L464.01 223.82 L464.57 223.81 L465.13 223.80 L465.69 223.79 L466.25 223.77 L466.81 223.70 L467.37 223.58 L467.93 223.42 L468.49 223.22 L469.05 222.99 L469.61 222.73 L470.17 222.44 L470.73 222.14 L471.29 221.83 L471.86 221.51 L472.42 221.18 L472.98 220.79 L473.54 220.33 L474.10 219.81 L474.66 219.23 L475.22 218.60 L475.78 217.92 L476.34 217.16 L476.90 216.28 L477.46 215.23 L478.02 213.94 L478.58 212.16 L479.14 209.73 L479.70 206.80 L480.26 203.48 L480.82 199.83 L481.38 195.42 L481.94 190.27 L482.50 184.47 L483.06 178.12 L483.62 171.14 L484.18 163.08 L484.74 153.48 L485.30 141.49 L485.86 123.87 L486.42 103.91 L486.98 82.40 L487.54 65.35 L488.10 50.51 L488.66 37.01 L489.22 25.90 L489.78 20.80 L490.34 19.09 L490.90 22.39 L491.46 28.06 L492.02 37.53 L492.58 50.46 L493.14 68.75 L493.70 90.12 L494.26 110.35 L494.82 120.88 L495.38 128.17 L495.94 133.71 L496.50 138.14 L497.06 142.02 L497.62 145.88 L498.18 149.94 L498.74 153.84 L499.30 157.34 L499.86 160.67 L500.42 163.94 L500.98 167.01 L501.54 169.73 L502.10 171.94 L502.66 173.57 L503.22 174.99 L503.78 175.96 L504.34 176.05 L504.90 175.37 L505.46 174.23 L506.02 172.93 L506.58 171.27 L507.14 169.08 L507.70 166.55 L508.26 163.82 L508.82 160.99 L509.38 157.86 L509.94 154.42 L510.50 150.73 L511.06 146.82 L511.62 142.71 L512.18 138.35 L512.74 133.74 L513.30 128.86 L513.86 123.70 L514.42 118.24 L514.98 112.47 L515.54 105.69 L516.10 97.68 L516.66 89.50 L517.22 82.23 L517.78 76.86 L518.34 72.48 L518.90 68.50 L519.46 64.98 L520.02 61.95 L520.58 59.46 L521.14 57.53 L521.70 55.81 L522.26 54.23 L522.82 52.87 L523.38 51.82 L523.94 51.18 L524.50 50.98 L525.06 50.87 L525.62 50.78 L526.18 50.71 L526.74 50.66 L527.30 50.64 L527.86 50.67 L528.42 51.08 L528.98 51.84 L529.54 52.81 L530.10 53.85 L530.66 54.82 L531.22 55.67 L531.78 56.51 L532.34 57.36 L532.90 58.24 L533.46 59.15 L534.02 60.11 L534.58 61.13 L535.14 62.23 L535.70 63.43 L536.26 64.83 L536.82 66.43 L537.38 68.10 L537.94 69.77 L538.50 71.37 L539.06 72.99 L539.62 74.62 L540.18 76.27 L540.74 77.93 L541.30 79.62 L541.86 81.33 L542.42 83.07 L542.98 84.82 L543.54 86.61 L544.10 88.41 L544.66 90.23 L545.22 92.07 L545.78 93.98 L546.34 95.97 L546.90 97.96 L547.46 99.90 L548.02 101.74 L548.58 103.40 L549.14 104.89 L549.70 106.28 L550.26 107.65 L550.82 109.09 L551.38 110.66 L551.94 112.41 L552.50 114.29 L553.06 116.29 L553.62 118.41 L554.18 120.67 L554.74 123.18 L555.30 125.88 L555.86 128.68 L556.42 131.47 L556.98 134.14 L557.54 136.61 L558.10 138.85 L558.66 140.95 L559.22 142.98 L559.78 144.97 L560.34 146.97 L560.90 149.03 L561.46 151.15 L562.02 153.31 L562.58 155.48 L563.14 157.65 L563.70 159.80 L564.26 161.91 L564.82 163.96 L565.38 166.00 L565.94 168.02 L566.50 170.03 L567.06 171.99 L567.62 173.90 L568.18 175.72 L568.74 177.45 L569.30 179.08 L569.86 180.64 L570.42 182.14 L570.98 183.59 L571.54 185.00 L572.10 186.38 L572.66 187.74 L573.22 189.08 L573.78 190.40 L574.34 191.68 L574.90 192.94 L575.46 194.17 L576.02 195.36 L576.58 196.50 L577.14 197.62 L577.70 198.71 L578.26 199.77 L578.82 200.80 L579.38 201.80 L579.94 202.75 L580.50 203.66 L581.06 204.53 L581.62 205.36 L582.18 206.16 L582.74 206.93 L583.30 207.67 L583.86 208.39 L584.42 209.10 L584.98 209.78 L585.54 210.45 L586.10 211.11 L586.66 211.74 L587.22 212.35 L587.78 212.95 L588.34 213.51 L588.90 214.06 L589.46 214.59 L590.02 215.10 L590.58 215.59 L591.14 216.07 L591.70 216.53 L592.26 216.96 L592.82 217.37 L593.38 217.77 L593.94 218.16 L594.50 218.53 L595.06 218.88 L595.62 219.21 L596.18 219.52 L596.74 219.81 L597.30 220.08 L597.86 220.34 L598.42 220.59 L598.98 220.82 L599.54 221.05 L600.10 221.26 L600.66 221.46 L601.22 221.64 L601.78 221.83 L602.34 222.00 L602.90 222.16 L603.46 222.31 L604.02 222.46 L604.58 222.60 L605.14 222.74 L605.70 222.88 L606.26 223.01 L606.82 223.14 L607.38 223.24 L607.94 223.32 L608.50 223.37 L609.06 223.41 L609.62 223.44 L610.18 223.47 L610.74 223.50 L611.30 223.53 L611.86 223.55 L612.42 223.58 L612.98 223.61 L613.54 223.63 L614.10 223.66 L614.66 223.68 L615.22 223.70 L615.78 223.72 L616.34 223.74 L616.90 223.76 L617.46 223.78 L618.02 223.80 L618.58 223.82 L619.14 223.83 L619.70 223.85 L620.26 223.86 L620.82 223.88 L621.38 223.89 L621.94 223.90 L622.50 223.91 L623.06 223.92 L623.62 223.93 L624.18 223.94 L624.74 223.95 L625.30 223.96 L625.86 223.96 L626.42 223.97 L626.98 223.97 L627.54 223.98 L628.10 223.98 L628.66 223.98 L629.22 223.99 L629.78 223.99 L630.34 223.99 L630.90 223.99 L631.46 223.99 L632.02 223.99 L632.58 223.99 L633.14 223.99 L633.70 223.99 L634.26 223.99 L634.82 223.99 L635.38 223.99 L635.94 223.99 L636.51 223.99 L637.07 223.99 L637.63 223.99 L638.19 223.99 L638.75 223.99 L639.31 223.99 L639.87 223.99 L640.43 223.99 L640.99 223.99 L641.55 223.99 L642.11 223.99 L642.67 223.99 L643.23 223.99 L643.79 223.99 L644.35 223.99 L644.91 223.99 L645.47 223.99 L646.03 223.99 L646.59 223.99 L647.15 223.99 L647.71 223.99 L648.27 223.99 L648.83 223.99 L649.39 223.99 L649.95 223.99 L650.51 223.99 L651.07 223.99 L651.63 223.99 L652.19 223.99 L652.75 223.99 L653.31 223.99 L653.87 223.99 L654.43 223.99 L654.99 223.99 L655.55 223.99 L656.11 223.99 L656.67 223.99 L657.23 223.99 L657.79 223.99 L658.35 223.99 L658.91 223.99 L659.47 223.99 L660.03 223.99 L660.59 223.99 L661.15 223.99 L661.71 223.99 L662.27 223.99 L662.83 223.99 L663.39 223.99 L663.95 223.99 L664.51 223.99 L665.07 223.99 L665.63 223.99 L666.19 223.99 L666.75 223.99 L667.31 223.99 L667.87 223.99 L668.43 223.99 L668.99 223.99 L669.55 223.99 L670.11 223.99 L670.67 223.99 L671.23 223.99 L671.79 223.99 L672.35 223.99 L672.91 223.99 L673.47 223.99 L674.03 223.99 L674.59 223.99 L675.15 223.99 L675.71 223.99 L676.27 223.99 L676.83 223.99 L677.39 223.99 L677.95 223.99 L678.51 223.99 L679.07 223.99 L679.63 223.99 L680.19 223.99 L680.75 223.99 L681.31 223.99 L681.87 223.99 L682.43 223.99 L682.99 223.99 L683.55 223.99 L684.11 223.99 L684.67 223.99 L685.23 223.99 L685.79 223.99 L686.35 223.99 L686.91 223.99 L687.47 223.99 L688.03 223.99 L688.59 223.99 L689.15 223.99 L689.71 223.99 L690.27 223.99 L690.83 223.99 L691.39 223.99 L691.95 223.99 L692.51 223.99 L693.07 223.99 L693.63 223.99 L694.19 223.99 L694.75 223.99 L695.31 223.99 L695.87 223.99 L696.43 223.99 L696.99 223.99 L697.55 223.99 L698.11 223.99 L698.67 223.99 L699.23 223.99 L699.79 223.99 L700.35 223.99 L700.91 223.99 L701.47 223.99 L702.03 223.99 L702.59 223.99 L703.15 223.99 L703.71 223.99 L704.27 223.99 L704.83 223.99 L705.39 223.99 L705.95 223.99 L706.51 223.99 L707.07 223.99 L707.63 223.99 L708.19 223.99 L708.75 223.99 L709.31 223.99 L709.87 223.99 L710.43 223.99 L710.99 223.99 L711.55 223.99 L712.11 223.99 L712.67 223.99 L713.23 223.99 L713.79 223.99 L714.35 223.99 L714.91 223.99 L715.47 223.99 L716.03 223.99 L716.59 223.99 L717.15 223.99 L717.71 223.99 L718.27 223.99" stroke="#8c3a22" stroke-width="0.85" fill="none" stroke-linejoin="round" stroke-dasharray="2.6 1.1 0.8 1.1"/>
<path d="M438.81 223.99 L439.37 223.99 L439.93 223.99 L440.49 223.99 L441.05 223.99 L441.61 223.99 L442.17 223.99 L442.73 223.99 L443.29 223.99 L443.85 223.98 L444.41 223.98 L444.97 223.98 L445.53 223.98 L446.09 223.98 L446.65 223.98 L447.21 223.98 L447.77 223.97 L448.33 223.97 L448.89 223.97 L449.45 223.97 L450.01 223.96 L450.57 223.96 L451.13 223.96 L451.69 223.95 L452.25 223.95 L452.81 223.95 L453.37 223.94 L453.93 223.94 L454.49 223.93 L455.05 223.93 L455.61 223.92 L456.17 223.92 L456.73 223.91 L457.29 223.91 L457.85 223.90 L458.41 223.90 L458.97 223.89 L459.53 223.88 L460.09 223.88 L460.65 223.87 L461.21 223.86 L461.77 223.85 L462.33 223.84 L462.89 223.84 L463.45 223.83 L464.01 223.82 L464.57 223.81 L465.13 223.80 L465.69 223.79 L466.25 223.77 L466.81 223.70 L467.37 223.58 L467.93 223.42 L468.49 223.22 L469.05 222.99 L469.61 222.73 L470.17 222.44 L470.73 222.14 L471.29 221.83 L471.86 221.51 L472.42 221.18 L472.98 220.79 L473.54 220.33 L474.10 219.81 L474.66 219.23 L475.22 218.60 L475.78 217.92 L476.34 217.16 L476.90 216.28 L477.46 215.23 L478.02 213.94 L478.58 212.16 L479.14 209.73 L479.70 206.80 L480.26 203.48 L480.82 199.83 L481.38 195.42 L481.94 190.27 L482.50 184.47 L483.06 178.12 L483.62 171.14 L484.18 163.08 L484.74 153.48 L485.30 141.49 L485.86 123.87 L486.42 103.91 L486.98 82.40 L487.54 65.35 L488.10 50.51 L488.66 37.01 L489.22 25.90 L489.78 20.80 L490.34 19.09 L490.90 22.39 L491.46 28.06 L492.02 37.53 L492.58 50.46 L493.14 68.75 L493.70 90.12 L494.26 110.35 L494.82 120.88 L495.38 128.17 L495.94 133.71 L496.50 138.14 L497.06 142.02 L497.62 145.88 L498.18 149.94 L498.74 153.84 L499.30 157.34 L499.86 160.71 L500.42 164.05 L500.98 167.17 L501.54 169.90 L502.10 172.05 L502.66 173.49 L503.22 174.69 L503.78 175.67 L504.34 176.25 L504.90 176.21 L505.46 175.22 L506.02 173.59 L506.58 171.72 L507.14 169.82 L507.70 167.42 L508.26 164.70 L508.82 161.86 L509.38 159.15 L509.94 156.77 L510.50 154.69 L511.06 152.76 L511.62 150.81 L512.18 148.70 L512.74 146.27 L513.30 143.26 L513.86 139.65 L514.42 135.71 L514.98 131.73 L515.54 128.00 L516.10 124.35 L516.66 120.56 L517.22 116.96 L517.78 113.90 L518.34 111.68 L518.90 109.94 L519.46 108.45 L520.02 107.27 L520.58 106.49 L521.14 105.93 L521.70 105.44 L522.26 105.08 L522.82 104.88 L523.38 104.87 L523.94 104.98 L524.50 105.18 L525.06 105.45 L525.62 105.77 L526.18 106.14 L526.74 106.60 L527.30 107.39 L527.86 108.47 L528.42 109.75 L528.98 111.14 L529.54 112.56 L530.10 113.93 L530.66 115.17 L531.22 116.25 L531.78 117.27 L532.34 118.27 L532.90 119.24 L533.46 120.23 L534.02 121.24 L534.58 122.30 L535.14 123.42 L535.70 124.64 L536.26 126.00 L536.82 127.50 L537.38 129.07 L537.94 130.67 L538.50 132.24 L539.06 133.74 L539.62 135.13 L540.18 136.45 L540.74 137.73 L541.30 138.98 L541.86 140.21 L542.42 141.43 L542.98 142.67 L543.54 143.91 L544.10 145.19 L544.66 146.49 L545.22 147.81 L545.78 149.14 L546.34 150.47 L546.90 151.80 L547.46 153.12 L548.02 154.43 L548.58 155.72 L549.14 156.98 L549.70 158.21 L550.26 159.39 L550.82 160.49 L551.38 161.57 L551.94 162.73 L552.50 164.02 L553.06 165.39 L553.62 166.84 L554.18 168.35 L554.74 169.90 L555.30 171.49 L555.86 173.11 L556.42 174.74 L556.98 176.37 L557.54 178.00 L558.10 179.61 L558.66 181.20 L559.22 182.87 L559.78 184.60 L560.34 186.35 L560.90 188.09 L561.46 189.79 L562.02 191.41 L562.58 192.91 L563.14 194.26 L563.70 195.44 L564.26 196.54 L564.82 197.59 L565.38 198.58 L565.94 199.52 L566.50 200.41 L567.06 201.26 L567.62 202.07 L568.18 202.85 L568.74 203.59 L569.30 204.31 L569.86 204.99 L570.42 205.64 L570.98 206.26 L571.54 206.86 L572.10 207.44 L572.66 208.00 L573.22 208.54 L573.78 209.08 L574.34 209.60 L574.90 210.13 L575.46 210.65 L576.02 211.17 L576.58 211.68 L577.14 212.19 L577.70 212.69 L578.26 213.17 L578.82 213.64 L579.38 214.09 L579.94 214.52 L580.50 214.93 L581.06 215.31 L581.62 215.67 L582.18 216.01 L582.74 216.35 L583.30 216.68 L583.86 217.00 L584.42 217.31 L584.98 217.61 L585.54 217.89 L586.10 218.17 L586.66 218.44 L587.22 218.69 L587.78 218.93 L588.34 219.16 L588.90 219.37 L589.46 219.56 L590.02 219.75 L590.58 219.92 L591.14 220.09 L591.70 220.26 L592.26 220.42 L592.82 220.58 L593.38 220.74 L593.94 220.89 L594.50 221.03 L595.06 221.17 L595.62 221.31 L596.18 221.44 L596.74 221.56 L597.30 221.68 L597.86 221.79 L598.42 221.89 L598.98 221.99 L599.54 222.08 L600.10 222.17 L600.66 222.25 L601.22 222.32 L601.78 222.38 L602.34 222.44 L602.90 222.50 L603.46 222.56 L604.02 222.62 L604.58 222.68 L605.14 222.74 L605.70 222.79 L606.26 222.85 L606.82 222.91 L607.38 222.96 L607.94 223.01 L608.50 223.06 L609.06 223.11 L609.62 223.16 L610.18 223.21 L610.74 223.25 L611.30 223.30 L611.86 223.34 L612.42 223.38 L612.98 223.42 L613.54 223.46 L614.10 223.49 L614.66 223.53 L615.22 223.56 L615.78 223.59 L616.34 223.62 L616.90 223.64 L617.46 223.67 L618.02 223.69 L618.58 223.71 L619.14 223.73 L619.70 223.74 L620.26 223.76 L620.82 223.77 L621.38 223.78 L621.94 223.78 L622.50 223.78 L623.06 223.79 L623.62 223.79 L624.18 223.79 L624.74 223.80 L625.30 223.80 L625.86 223.80 L626.42 223.80 L626.98 223.81 L627.54 223.81 L628.10 223.81 L628.66 223.82 L629.22 223.82 L629.78 223.82 L630.34 223.82 L630.90 223.83 L631.46 223.83 L632.02 223.83 L632.58 223.83 L633.14 223.84 L633.70 223.84 L634.26 223.84 L634.82 223.84 L635.38 223.84 L635.94 223.85 L636.51 223.85 L637.07 223.85 L637.63 223.85 L638.19 223.86 L638.75 223.86 L639.31 223.86 L639.87 223.86 L640.43 223.86 L640.99 223.87 L641.55 223.87 L642.11 223.87 L642.67 223.87 L643.23 223.88 L643.79 223.88 L644.35 223.88 L644.91 223.88 L645.47 223.88 L646.03 223.89 L646.59 223.89 L647.15 223.89 L647.71 223.89 L648.27 223.89 L648.83 223.89 L649.39 223.90 L649.95 223.90 L650.51 223.90 L651.07 223.90 L651.63 223.90 L652.19 223.90 L652.75 223.91 L653.31 223.91 L653.87 223.91 L654.43 223.91 L654.99 223.91 L655.55 223.91 L656.11 223.92 L656.67 223.92 L657.23 223.92 L657.79 223.92 L658.35 223.92 L658.91 223.92 L659.47 223.92 L660.03 223.93 L660.59 223.93 L661.15 223.93 L661.71 223.93 L662.27 223.93 L662.83 223.93 L663.39 223.93 L663.95 223.94 L664.51 223.94 L665.07 223.94 L665.63 223.94 L666.19 223.94 L666.75 223.94 L667.31 223.94 L667.87 223.94 L668.43 223.95 L668.99 223.95 L669.55 223.95 L670.11 223.95 L670.67 223.95 L671.23 223.95 L671.79 223.95 L672.35 223.95 L672.91 223.95 L673.47 223.95 L674.03 223.96 L674.59 223.96 L675.15 223.96 L675.71 223.96 L676.27 223.96 L676.83 223.96 L677.39 223.96 L677.95 223.96 L678.51 223.96 L679.07 223.96 L679.63 223.96 L680.19 223.97 L680.75 223.97 L681.31 223.97 L681.87 223.97 L682.43 223.97 L682.99 223.97 L683.55 223.97 L684.11 223.97 L684.67 223.97 L685.23 223.97 L685.79 223.97 L686.35 223.97 L686.91 223.97 L687.47 223.97 L688.03 223.97 L688.59 223.98 L689.15 223.98 L689.71 223.98 L690.27 223.98 L690.83 223.98 L691.39 223.98 L691.95 223.98 L692.51 223.98 L693.07 223.98 L693.63 223.98 L694.19 223.98 L694.75 223.98 L695.31 223.98 L695.87 223.98 L696.43 223.98 L696.99 223.98 L697.55 223.98 L698.11 223.98 L698.67 223.98 L699.23 223.98 L699.79 223.98 L700.35 223.98 L700.91 223.98 L701.47 223.99 L702.03 223.99 L702.59 223.99 L703.15 223.99 L703.71 223.99 L704.27 223.99 L704.83 223.99 L705.39 223.99 L705.95 223.99 L706.51 223.99 L707.07 223.99 L707.63 223.99 L708.19 223.99 L708.75 223.99 L709.31 223.99 L709.87 223.99 L710.43 223.99 L710.99 223.99 L711.55 223.99 L712.11 223.99 L712.67 223.99 L713.23 223.99 L713.79 223.99 L714.35 223.99 L714.91 223.99 L715.47 223.99 L716.03 223.99 L716.59 223.99 L717.15 223.99 L717.71 223.99 L718.27 223.99" stroke="#111" stroke-width="0.85" fill="none" stroke-linejoin="round" stroke-dasharray="1.0 1.8"/>
<path d="M438.81 223.99 L439.37 223.99 L439.93 223.99 L440.49 223.99 L441.05 223.99 L441.61 223.99 L442.17 223.99 L442.73 223.99 L443.29 223.99 L443.85 223.98 L444.41 223.98 L444.97 223.98 L445.53 223.98 L446.09 223.98 L446.65 223.98 L447.21 223.98 L447.77 223.97 L448.33 223.97 L448.89 223.97 L449.45 223.97 L450.01 223.96 L450.57 223.96 L451.13 223.96 L451.69 223.95 L452.25 223.95 L452.81 223.95 L453.37 223.94 L453.93 223.94 L454.49 223.93 L455.05 223.93 L455.61 223.92 L456.17 223.92 L456.73 223.91 L457.29 223.91 L457.85 223.90 L458.41 223.90 L458.97 223.89 L459.53 223.88 L460.09 223.88 L460.65 223.87 L461.21 223.86 L461.77 223.85 L462.33 223.84 L462.89 223.84 L463.45 223.83 L464.01 223.82 L464.57 223.81 L465.13 223.80 L465.69 223.79 L466.25 223.77 L466.81 223.70 L467.37 223.58 L467.93 223.42 L468.49 223.22 L469.05 222.99 L469.61 222.73 L470.17 222.44 L470.73 222.14 L471.29 221.83 L471.86 221.51 L472.42 221.18 L472.98 220.79 L473.54 220.33 L474.10 219.81 L474.66 219.23 L475.22 218.60 L475.78 217.92 L476.34 217.16 L476.90 216.28 L477.46 215.23 L478.02 213.94 L478.58 212.16 L479.14 209.73 L479.70 206.80 L480.26 203.48 L480.82 199.81 L481.38 195.29 L481.94 190.05 L482.50 184.29 L483.06 178.20 L483.62 171.35 L484.18 163.81 L484.74 155.86 L485.30 147.72 L485.86 138.82 L486.42 130.08 L486.98 122.83 L487.54 116.22 L488.10 106.18 L488.66 92.02 L489.22 85.60 L489.78 82.19 L490.34 82.72 L490.90 86.61 L491.46 91.99 L492.02 100.46 L492.58 110.02 L493.14 119.29 L493.70 129.04 L494.26 137.72 L494.82 144.64 L495.38 150.71 L495.94 156.42 L496.50 162.28 L497.06 168.17 L497.62 173.62 L498.18 178.15 L498.74 181.46 L499.30 184.32 L499.86 186.82 L500.42 188.94 L500.98 190.62 L501.54 191.85 L502.10 192.91 L502.66 193.89 L503.22 194.76 L503.78 195.47 L504.34 195.97 L504.90 196.23 L505.46 196.19 L506.02 195.79 L506.58 195.09 L507.14 194.17 L507.70 193.10 L508.26 191.97 L508.82 190.73 L509.38 189.09 L509.94 187.12 L510.50 184.93 L511.06 182.63 L511.62 180.35 L512.18 178.08 L512.74 175.67 L513.30 173.16 L513.86 170.58 L514.42 167.98 L514.98 165.40 L515.54 162.88 L516.10 160.38 L516.66 157.87 L517.22 155.35 L517.78 152.86 L518.34 150.40 L518.90 148.00 L519.46 145.69 L520.02 143.46 L520.58 141.31 L521.14 139.21 L521.70 137.14 L522.26 135.08 L522.82 133.01 L523.38 130.90 L523.94 128.75 L524.50 126.63 L525.06 124.59 L525.62 122.56 L526.18 120.47 L526.74 118.25 L527.30 115.83 L527.86 113.15 L528.42 110.09 L528.98 106.47 L529.54 102.37 L530.10 97.91 L530.66 92.96 L531.22 87.14 L531.78 81.44 L532.34 76.42 L532.90 71.52 L533.46 66.77 L534.02 62.17 L534.58 57.76 L535.14 53.54 L535.70 49.53 L536.26 45.77 L536.82 42.09 L537.38 38.48 L537.94 35.04 L538.50 31.85 L539.06 29.03 L539.62 26.67 L540.18 24.74 L540.74 23.02 L541.30 21.62 L541.86 20.61 L542.42 19.83 L542.98 19.23 L543.54 19.00 L544.10 19.44 L544.66 20.48 L545.22 21.91 L545.78 23.50 L546.34 25.15 L546.90 27.28 L547.46 29.76 L548.02 32.43 L548.58 35.09 L549.14 37.59 L549.70 39.97 L550.26 42.34 L550.82 44.79 L551.38 47.42 L551.94 50.31 L552.50 53.52 L553.06 57.00 L553.62 60.74 L554.18 64.68 L554.74 68.80 L555.30 73.18 L555.86 77.99 L556.42 82.99 L556.98 87.89 L557.54 92.83 L558.10 97.76 L558.66 102.48 L559.22 106.85 L559.78 110.94 L560.34 114.89 L560.90 118.79 L561.46 122.78 L562.02 126.89 L562.58 130.89 L563.14 134.52 L563.70 137.59 L564.26 140.29 L564.82 142.76 L565.38 145.04 L565.94 147.17 L566.50 149.19 L567.06 151.13 L567.62 152.96 L568.18 154.68 L568.74 156.32 L569.30 157.90 L569.86 159.46 L570.42 161.03 L570.98 162.63 L571.54 164.26 L572.10 165.91 L572.66 167.57 L573.22 169.24 L573.78 170.91 L574.34 172.57 L574.90 174.22 L575.46 175.85 L576.02 177.46 L576.58 179.05 L577.14 180.61 L577.70 182.12 L578.26 183.60 L578.82 185.03 L579.38 186.42 L579.94 187.81 L580.50 189.18 L581.06 190.54 L581.62 191.88 L582.18 193.20 L582.74 194.49 L583.30 195.75 L583.86 196.98 L584.42 198.17 L584.98 199.32 L585.54 200.41 L586.10 201.46 L586.66 202.46 L587.22 203.40 L587.78 204.33 L588.34 205.23 L588.90 206.12 L589.46 206.99 L590.02 207.84 L590.58 208.66 L591.14 209.45 L591.70 210.21 L592.26 210.93 L592.82 211.62 L593.38 212.28 L593.94 212.89 L594.50 213.46 L595.06 213.99 L595.62 214.47 L596.18 214.95 L596.74 215.41 L597.30 215.86 L597.86 216.30 L598.42 216.73 L598.98 217.14 L599.54 217.53 L600.10 217.91 L600.66 218.27 L601.22 218.62 L601.78 218.95 L602.34 219.26 L602.90 219.56 L603.46 219.83 L604.02 220.08 L604.58 220.32 L605.14 220.53 L605.70 220.72 L606.26 220.90 L606.82 221.08 L607.38 221.25 L607.94 221.42 L608.50 221.58 L609.06 221.74 L609.62 221.90 L610.18 222.05 L610.74 222.19 L611.30 222.33 L611.86 222.46 L612.42 222.59 L612.98 222.70 L613.54 222.81 L614.10 222.91 L614.66 223.01 L615.22 223.09 L615.78 223.17 L616.34 223.23 L616.90 223.29 L617.46 223.33 L618.02 223.37 L618.58 223.39 L619.14 223.42 L619.70 223.44 L620.26 223.46 L620.82 223.49 L621.38 223.51 L621.94 223.53 L622.50 223.55 L623.06 223.57 L623.62 223.58 L624.18 223.60 L624.74 223.62 L625.30 223.63 L625.86 223.65 L626.42 223.66 L626.98 223.67 L627.54 223.69 L628.10 223.70 L628.66 223.71 L629.22 223.72 L629.78 223.73 L630.34 223.74 L630.90 223.75 L631.46 223.75 L632.02 223.76 L632.58 223.77 L633.14 223.77 L633.70 223.78 L634.26 223.78 L634.82 223.78 L635.38 223.79 L635.94 223.79 L636.51 223.79 L637.07 223.80 L637.63 223.80 L638.19 223.80 L638.75 223.80 L639.31 223.81 L639.87 223.81 L640.43 223.81 L640.99 223.82 L641.55 223.82 L642.11 223.82 L642.67 223.82 L643.23 223.83 L643.79 223.83 L644.35 223.83 L644.91 223.83 L645.47 223.84 L646.03 223.84 L646.59 223.84 L647.15 223.84 L647.71 223.85 L648.27 223.85 L648.83 223.85 L649.39 223.85 L649.95 223.86 L650.51 223.86 L651.07 223.86 L651.63 223.86 L652.19 223.87 L652.75 223.87 L653.31 223.87 L653.87 223.87 L654.43 223.88 L654.99 223.88 L655.55 223.88 L656.11 223.88 L656.67 223.88 L657.23 223.89 L657.79 223.89 L658.35 223.89 L658.91 223.89 L659.47 223.89 L660.03 223.90 L660.59 223.90 L661.15 223.90 L661.71 223.90 L662.27 223.90 L662.83 223.91 L663.39 223.91 L663.95 223.91 L664.51 223.91 L665.07 223.91 L665.63 223.91 L666.19 223.92 L666.75 223.92 L667.31 223.92 L667.87 223.92 L668.43 223.92 L668.99 223.92 L669.55 223.93 L670.11 223.93 L670.67 223.93 L671.23 223.93 L671.79 223.93 L672.35 223.93 L672.91 223.93 L673.47 223.94 L674.03 223.94 L674.59 223.94 L675.15 223.94 L675.71 223.94 L676.27 223.94 L676.83 223.94 L677.39 223.95 L677.95 223.95 L678.51 223.95 L679.07 223.95 L679.63 223.95 L680.19 223.95 L680.75 223.95 L681.31 223.95 L681.87 223.95 L682.43 223.96 L682.99 223.96 L683.55 223.96 L684.11 223.96 L684.67 223.96 L685.23 223.96 L685.79 223.96 L686.35 223.96 L686.91 223.96 L687.47 223.97 L688.03 223.97 L688.59 223.97 L689.15 223.97 L689.71 223.97 L690.27 223.97 L690.83 223.97 L691.39 223.97 L691.95 223.97 L692.51 223.97 L693.07 223.97 L693.63 223.97 L694.19 223.97 L694.75 223.98 L695.31 223.98 L695.87 223.98 L696.43 223.98 L696.99 223.98 L697.55 223.98 L698.11 223.98 L698.67 223.98 L699.23 223.98 L699.79 223.98 L700.35 223.98 L700.91 223.98 L701.47 223.98 L702.03 223.98 L702.59 223.98 L703.15 223.98 L703.71 223.98 L704.27 223.98 L704.83 223.98 L705.39 223.99 L705.95 223.99 L706.51 223.99 L707.07 223.99 L707.63 223.99 L708.19 223.99 L708.75 223.99 L709.31 223.99 L709.87 223.99 L710.43 223.99 L710.99 223.99 L711.55 223.99 L712.11 223.99 L712.67 223.99 L713.23 223.99 L713.79 223.99 L714.35 223.99 L714.91 223.99 L715.47 223.99 L716.03 223.99 L716.59 223.99 L717.15 223.99 L717.71 223.99 L718.27 223.99" stroke="#ee7e50" stroke-width="0.85" fill="none" stroke-linejoin="round" stroke-dasharray="3 2"/>
<path d="M438.81 223.99 L439.37 223.99 L439.93 223.99 L440.49 223.99 L441.05 223.99 L441.61 223.99 L442.17 223.99 L442.73 223.99 L443.29 223.99 L443.85 223.99 L444.41 223.98 L444.97 223.98 L445.53 223.98 L446.09 223.98 L446.65 223.98 L447.21 223.98 L447.77 223.98 L448.33 223.97 L448.89 223.97 L449.45 223.97 L450.01 223.97 L450.57 223.97 L451.13 223.96 L451.69 223.96 L452.25 223.96 L452.81 223.95 L453.37 223.95 L453.93 223.95 L454.49 223.94 L455.05 223.94 L455.61 223.93 L456.17 223.93 L456.73 223.93 L457.29 223.92 L457.85 223.92 L458.41 223.91 L458.97 223.91 L459.53 223.90 L460.09 223.89 L460.65 223.89 L461.21 223.88 L461.77 223.87 L462.33 223.87 L462.89 223.86 L463.45 223.85 L464.01 223.85 L464.57 223.84 L465.13 223.83 L465.69 223.82 L466.25 223.81 L466.81 223.80 L467.37 223.79 L467.93 223.79 L468.49 223.76 L469.05 223.71 L469.61 223.62 L470.17 223.50 L470.73 223.35 L471.29 223.18 L471.86 222.99 L472.42 222.77 L472.98 222.54 L473.54 222.29 L474.10 222.02 L474.66 221.70 L475.22 221.23 L475.78 220.64 L476.34 219.95 L476.90 219.21 L477.46 218.44 L478.02 217.67 L478.58 216.85 L479.14 215.93 L479.70 214.85 L480.26 213.55 L480.82 211.82 L481.38 209.68 L481.94 207.21 L482.50 204.50 L483.06 201.65 L483.62 198.78 L484.18 195.79 L484.74 192.41 L485.30 188.38 L485.86 183.46 L486.42 176.79 L486.98 164.47 L487.54 150.79 L488.10 140.33 L488.66 131.77 L489.22 127.80 L489.78 125.25 L490.34 124.39 L490.90 126.03 L491.46 129.20 L492.02 133.40 L492.58 139.39 L493.14 145.33 L493.70 150.35 L494.26 155.25 L494.82 159.82 L495.38 163.81 L495.94 167.24 L496.50 170.51 L497.06 173.55 L497.62 176.23 L498.18 178.42 L498.74 179.99 L499.30 181.23 L499.86 182.40 L500.42 183.43 L500.98 184.29 L501.54 184.93 L502.10 185.30 L502.66 185.36 L503.22 185.12 L503.78 184.62 L504.34 183.89 L504.90 182.96 L505.46 181.85 L506.02 180.61 L506.58 179.05 L507.14 176.21 L507.70 172.47 L508.26 168.39 L508.82 164.39 L509.38 160.07 L509.94 155.41 L510.50 150.42 L511.06 145.09 L511.62 139.24 L512.18 132.87 L512.74 126.16 L513.30 119.30 L513.86 112.45 L514.42 105.52 L514.98 98.34 L515.54 91.10 L516.10 84.03 L516.66 77.30 L517.22 70.70 L517.78 64.12 L518.34 57.75 L518.90 51.78 L519.46 46.40 L520.02 41.71 L520.58 37.29 L521.14 33.26 L521.70 29.80 L522.26 27.11 L522.82 24.98 L523.38 23.16 L523.94 21.74 L524.50 20.79 L525.06 20.01 L525.62 19.38 L526.18 19.03 L526.74 19.04 L527.30 19.30 L527.86 19.75 L528.42 20.35 L528.98 21.04 L529.54 21.80 L530.10 22.66 L530.66 23.84 L531.22 25.31 L531.78 26.99 L532.34 28.82 L532.90 30.71 L533.46 32.72 L534.02 35.07 L534.58 37.63 L535.14 40.25 L535.70 42.79 L536.26 45.12 L536.82 47.33 L537.38 49.47 L537.94 51.58 L538.50 53.71 L539.06 55.90 L539.62 58.17 L540.18 60.55 L540.74 62.98 L541.30 65.41 L541.86 67.81 L542.42 70.10 L542.98 72.27 L543.54 74.35 L544.10 76.42 L544.66 78.55 L545.22 80.79 L545.78 83.11 L546.34 85.49 L546.90 87.91 L547.46 90.36 L548.02 92.81 L548.58 95.30 L549.14 97.82 L549.70 100.35 L550.26 102.89 L550.82 105.43 L551.38 107.97 L551.94 110.51 L552.50 113.06 L553.06 115.63 L553.62 118.20 L554.18 120.80 L554.74 123.49 L555.30 126.22 L555.86 128.95 L556.42 131.62 L556.98 134.19 L557.54 136.61 L558.10 138.85 L558.66 140.95 L559.22 142.98 L559.78 144.97 L560.34 146.97 L560.90 149.03 L561.46 151.15 L562.02 153.31 L562.58 155.48 L563.14 157.65 L563.70 159.80 L564.26 161.91 L564.82 163.96 L565.38 166.00 L565.94 168.02 L566.50 170.03 L567.06 171.99 L567.62 173.90 L568.18 175.72 L568.74 177.45 L569.30 179.08 L569.86 180.64 L570.42 182.14 L570.98 183.59 L571.54 185.00 L572.10 186.38 L572.66 187.74 L573.22 189.08 L573.78 190.40 L574.34 191.68 L574.90 192.94 L575.46 194.17 L576.02 195.36 L576.58 196.50 L577.14 197.62 L577.70 198.71 L578.26 199.77 L578.82 200.80 L579.38 201.80 L579.94 202.75 L580.50 203.66 L581.06 204.53 L581.62 205.36 L582.18 206.16 L582.74 206.93 L583.30 207.67 L583.86 208.39 L584.42 209.10 L584.98 209.78 L585.54 210.45 L586.10 211.11 L586.66 211.74 L587.22 212.35 L587.78 212.95 L588.34 213.51 L588.90 214.06 L589.46 214.59 L590.02 215.10 L590.58 215.59 L591.14 216.07 L591.70 216.53 L592.26 216.96 L592.82 217.37 L593.38 217.77 L593.94 218.16 L594.50 218.53 L595.06 218.88 L595.62 219.21 L596.18 219.52 L596.74 219.81 L597.30 220.08 L597.86 220.34 L598.42 220.59 L598.98 220.82 L599.54 221.05 L600.10 221.26 L600.66 221.46 L601.22 221.64 L601.78 221.83 L602.34 222.00 L602.90 222.16 L603.46 222.31 L604.02 222.46 L604.58 222.60 L605.14 222.74 L605.70 222.88 L606.26 223.01 L606.82 223.14 L607.38 223.24 L607.94 223.32 L608.50 223.37 L609.06 223.41 L609.62 223.44 L610.18 223.47 L610.74 223.50 L611.30 223.53 L611.86 223.55 L612.42 223.58 L612.98 223.61 L613.54 223.63 L614.10 223.66 L614.66 223.68 L615.22 223.70 L615.78 223.72 L616.34 223.74 L616.90 223.76 L617.46 223.78 L618.02 223.80 L618.58 223.82 L619.14 223.83 L619.70 223.85 L620.26 223.86 L620.82 223.88 L621.38 223.89 L621.94 223.90 L622.50 223.91 L623.06 223.92 L623.62 223.93 L624.18 223.94 L624.74 223.95 L625.30 223.96 L625.86 223.96 L626.42 223.97 L626.98 223.97 L627.54 223.98 L628.10 223.98 L628.66 223.98 L629.22 223.99 L629.78 223.99 L630.34 223.99 L630.90 223.99 L631.46 223.99 L632.02 223.99 L632.58 223.99 L633.14 223.99 L633.70 223.99 L634.26 223.99 L634.82 223.99 L635.38 223.99 L635.94 223.99 L636.51 223.99 L637.07 223.99 L637.63 223.99 L638.19 223.99 L638.75 223.99 L639.31 223.99 L639.87 223.99 L640.43 223.99 L640.99 223.99 L641.55 223.99 L642.11 223.99 L642.67 223.99 L643.23 223.99 L643.79 223.99 L644.35 223.99 L644.91 223.99 L645.47 223.99 L646.03 223.99 L646.59 223.99 L647.15 223.99 L647.71 223.99 L648.27 223.99 L648.83 223.99 L649.39 223.99 L649.95 223.99 L650.51 223.99 L651.07 223.99 L651.63 223.99 L652.19 223.99 L652.75 223.99 L653.31 223.99 L653.87 223.99 L654.43 223.99 L654.99 223.99 L655.55 223.99 L656.11 223.99 L656.67 223.99 L657.23 223.99 L657.79 223.99 L658.35 223.99 L658.91 223.99 L659.47 223.99 L660.03 223.99 L660.59 223.99 L661.15 223.99 L661.71 223.99 L662.27 223.99 L662.83 223.99 L663.39 223.99 L663.95 223.99 L664.51 223.99 L665.07 223.99 L665.63 223.99 L666.19 223.99 L666.75 223.99 L667.31 223.99 L667.87 223.99 L668.43 223.99 L668.99 223.99 L669.55 223.99 L670.11 223.99 L670.67 223.99 L671.23 223.99 L671.79 223.99 L672.35 223.99 L672.91 223.99 L673.47 223.99 L674.03 223.99 L674.59 223.99 L675.15 223.99 L675.71 223.99 L676.27 223.99 L676.83 223.99 L677.39 223.99 L677.95 223.99 L678.51 223.99 L679.07 223.99 L679.63 223.99 L680.19 223.99 L680.75 223.99 L681.31 223.99 L681.87 223.99 L682.43 223.99 L682.99 223.99 L683.55 223.99 L684.11 223.99 L684.67 223.99 L685.23 223.99 L685.79 223.99 L686.35 223.99 L686.91 223.99 L687.47 223.99 L688.03 223.99 L688.59 223.99 L689.15 223.99 L689.71 223.99 L690.27 223.99 L690.83 223.99 L691.39 223.99 L691.95 223.99 L692.51 223.99 L693.07 223.99 L693.63 223.99 L694.19 223.99 L694.75 223.99 L695.31 223.99 L695.87 223.99 L696.43 223.99 L696.99 223.99 L697.55 223.99 L698.11 223.99 L698.67 223.99 L699.23 223.99 L699.79 223.99 L700.35 223.99 L700.91 223.99 L701.47 223.99 L702.03 223.99 L702.59 223.99 L703.15 223.99 L703.71 223.99 L704.27 223.99 L704.83 223.99 L705.39 223.99 L705.95 223.99 L706.51 223.99 L707.07 223.99 L707.63 223.99 L708.19 223.99 L708.75 223.99 L709.31 223.99 L709.87 223.99 L710.43 223.99 L710.99 223.99 L711.55 223.99 L712.11 223.99 L712.67 223.99 L713.23 223.99 L713.79 223.99 L714.35 223.99 L714.91 223.99 L715.47 223.99 L716.03 223.99 L716.59 223.99 L717.15 223.99 L717.71 223.99 L718.27 223.99" stroke="#dcc208" stroke-width="0.85" fill="none" stroke-linejoin="round"/>
<path d="M497.51 163.81 V176.13 M495.51 163.81 h4.00 M495.51 176.13 h4.00" stroke="#444" stroke-width="0.65" fill="none"/>
<path d="M497.51 146.35 V162.78 M495.51 146.35 h4.00 M495.51 162.78 h4.00" stroke="#444" stroke-width="0.65" fill="none"/>
<path d="M497.51 140.60 V157.03 M495.51 140.60 h4.00 M495.51 157.03 h4.00" stroke="#444" stroke-width="0.65" fill="none"/>
<path d="M497.51 123.75 V142.24 M495.51 123.75 h4.00 M495.51 142.24 h4.00" stroke="#444" stroke-width="0.65" fill="none"/>
<path d="M530.80 99.11 V119.65 M528.80 99.11 h4.00 M528.80 119.65 h4.00" stroke="#444" stroke-width="0.65" fill="none"/>
<path d="M530.80 63.37 V99.52 M528.80 63.37 h4.00 M528.80 99.52 h4.00" stroke="#8f939d" stroke-width="0.85" fill="none"/>
<path d="M530.80 35.64 V64.39 M528.80 35.64 h4.00 M528.80 64.39 h4.00" stroke="#8f939d" stroke-width="1.05" fill="none"/>
<path d="M530.80 6.68 V35.84 M528.80 6.68 h4.00 M528.80 35.84 h4.00" stroke="#8f939d" stroke-width="1.05" fill="none"/>
<path d="M560.33 180.24 V188.45 M558.33 180.24 h4.00 M558.33 188.45 h4.00" stroke="#444" stroke-width="0.65" fill="none"/>
<path d="M560.33 159.70 V172.02 M558.33 159.70 h4.00 M558.33 172.02 h4.00" stroke="#444" stroke-width="0.65" fill="none"/>
<path d="M560.33 153.13 V167.50 M558.33 153.13 h4.00 M558.33 167.50 h4.00" stroke="#444" stroke-width="0.65" fill="none"/>
<path d="M560.33 120.67 V153.54 M558.33 120.67 h4.00 M558.33 153.54 h4.00" stroke="#444" stroke-width="0.65" fill="none"/>
<rect x="444.75" y="221.71" width="4.56" height="4.56" fill="#7a0a8c"/>
<circle cx="447.03" cy="223.78" r="2.65" fill="#7a0a8c"/>
<path d="M447.03 217.98 L450.21 223.70 L443.85 223.70Z" fill="#7a0a8c"/>
<circle cx="698.35" cy="223.99" r="2.65" fill="#f07a10"/>
<path d="M698.35 218.19 L701.53 223.91 L695.17 223.91Z" fill="#e8141c"/>
<rect x="495.23" y="167.69" width="4.56" height="4.56" fill="#1414e0"/>
<path d="M497.51 151.27 L500.52 154.56 L497.51 157.86 L494.49 154.56Z" fill="#1414e0"/>
<path d="M497.51 145.47 L500.69 151.20 L494.33 151.20Z" fill="#1414e0"/>
<circle cx="497.51" cy="133.00" r="2.65" fill="#1414e0"/>
<path d="M530.80 106.04 L533.98 111.76 L527.62 111.76Z" fill="#0a8a1a"/>
<path d="M530.80 78.97 L533.82 82.26 L530.80 85.56 L527.79 82.26Z" fill="#0a8a1a"/>
<circle cx="530.80" cy="50.02" r="2.65" fill="#0a8a1a"/>
<rect x="528.53" y="20.83" width="4.56" height="4.56" fill="#0a8a1a"/>
<path d="M560.33 181.01 L563.51 186.73 L557.15 186.73Z" fill="#e8141c"/>
<circle cx="560.33" cy="165.86" r="2.65" fill="#e8141c"/>
<rect x="558.06" y="158.04" width="4.56" height="4.56" fill="#e8141c"/>
<path d="M560.33 133.81 L563.35 137.11 L560.33 140.40 L557.32 137.11Z" fill="#e8141c"/>
</g>
<path d="M426.30 224.40 v-4.00 M426.30 8.40 v4.00 M447.24 224.40 v-2.20 M447.24 8.40 v2.20 M468.19 224.40 v-4.00 M468.19 8.40 v4.00 M489.13 224.40 v-2.20 M489.13 8.40 v2.20 M510.07 224.40 v-4.00 M510.07 8.40 v4.00 M531.01 224.40 v-2.20 M531.01 8.40 v2.20 M551.96 224.40 v-4.00 M551.96 8.40 v4.00 M572.90 224.40 v-2.20 M572.90 8.40 v2.20 M593.84 224.40 v-4.00 M593.84 8.40 v4.00 M614.79 224.40 v-2.20 M614.79 8.40 v2.20 M635.73 224.40 v-4.00 M635.73 8.40 v4.00 M656.67 224.40 v-2.20 M656.67 8.40 v2.20 M677.61 224.40 v-4.00 M677.61 8.40 v4.00 M698.56 224.40 v-2.20 M698.56 8.40 v2.20 M719.50 224.40 v-4.00 M719.50 8.40 v4.00 M426.30 224.40 h4.00 M719.50 224.40 h-4.00 M426.30 203.86 h2.20 M719.50 203.86 h-2.20 M426.30 183.32 h4.00 M719.50 183.32 h-4.00 M426.30 162.78 h2.20 M719.50 162.78 h-2.20 M426.30 142.24 h4.00 M719.50 142.24 h-4.00 M426.30 121.70 h2.20 M719.50 121.70 h-2.20 M426.30 101.16 h4.00 M719.50 101.16 h-4.00 M426.30 80.62 h2.20 M719.50 80.62 h-2.20 M426.30 60.08 h4.00 M719.50 60.08 h-4.00 M426.30 39.54 h2.20 M719.50 39.54 h-2.20 M426.30 19.00 h4.00 M719.50 19.00 h-4.00" stroke="#222" stroke-width="0.8" fill="none"/>
<rect x="426.30" y="8.40" width="293.20" height="216.00" fill="none" stroke="#333" stroke-width="0.95"/>
<rect x="564.80" y="15.00" width="149.60" height="75.70" fill="#fff" stroke="#666" stroke-width="0.9"/>
<text x="567.50" y="29.00" class="lg">Spectrometer</text>
<path d="M567.50 30.55 h66.00" stroke="#111" stroke-width="0.65"/>
<text x="640.00" y="29.00" class="lg">Tag</text>
<path d="M640.00 30.55 h18.50" stroke="#111" stroke-width="0.65"/>
<text x="664.50" y="29.00" class="lg">Reflected</text>
<path d="M664.50 30.55 h46.50" stroke="#111" stroke-width="0.65"/>
<path d="M582.50 38.30 H609.00" stroke="#111" stroke-width="0.8" stroke-dasharray="1.0 1.8" fill="none"/>
<path d="M647.50 34.46 L651.16 41.04 L643.84 41.04Z" fill="#000"/>
<text x="667.00" y="42.00" class="lg" style="font-size:11.40px">White</text>
<path d="M582.50 52.50 H609.00" stroke="#dcc208" stroke-width="0.8" fill="none"/>
<rect x="644.88" y="49.88" width="5.25" height="5.25" fill="#000"/>
<text x="667.00" y="56.20" class="lg" style="font-size:11.40px">Yellow</text>
<path d="M582.50 66.80 H609.00" stroke="#ee7e50" stroke-width="0.8" stroke-dasharray="3 2" fill="none"/>
<path d="M647.50 63.27 L650.73 66.80 L647.50 70.33 L644.27 66.80Z" fill="#000"/>
<text x="667.00" y="70.50" class="lg" style="font-size:11.40px">Orange</text>
<path d="M582.50 81.20 H609.00" stroke="#8c3a22" stroke-width="0.8" stroke-dasharray="2.6 1.1 0.8 1.1" fill="none"/>
<circle cx="647.50" cy="81.20" r="3.05" fill="#000"/>
<text x="667.00" y="84.90" class="lg" style="font-size:11.40px">Brown</text>
<text transform="translate(426.00 239.80) scale(1 1.06)" text-anchor="middle" class="tk">300</text>
<text transform="translate(467.89 239.80) scale(1 1.06)" text-anchor="middle" class="tk">400</text>
<text transform="translate(509.77 239.80) scale(1 1.06)" text-anchor="middle" class="tk">500</text>
<text transform="translate(551.66 239.80) scale(1 1.06)" text-anchor="middle" class="tk">600</text>
<text transform="translate(593.54 239.80) scale(1 1.06)" text-anchor="middle" class="tk">700</text>
<text transform="translate(635.43 239.80) scale(1 1.06)" text-anchor="middle" class="tk">800</text>
<text transform="translate(677.31 239.80) scale(1 1.06)" text-anchor="middle" class="tk">900</text>
<text transform="translate(719.20 239.80) scale(1 1.06)" text-anchor="middle" class="tk">1000</text>
<text transform="translate(420.30 228.80) scale(1 1.06)" text-anchor="end" class="tk">0.0</text>
<text transform="translate(420.30 187.72) scale(1 1.06)" text-anchor="end" class="tk">0.2</text>
<text transform="translate(420.30 146.64) scale(1 1.06)" text-anchor="end" class="tk">0.4</text>
<text transform="translate(420.30 105.56) scale(1 1.06)" text-anchor="end" class="tk">0.6</text>
<text transform="translate(420.30 64.48) scale(1 1.06)" text-anchor="end" class="tk">0.8</text>
<text transform="translate(420.30 23.40) scale(1 1.06)" text-anchor="end" class="tk">1.0</text>
<text x="572.90" y="263.50" text-anchor="middle" class="ax">Wavelength (nm)</text>
<text transform="translate(394.70 117.10) rotate(-90)" text-anchor="middle" class="ax" style="font-size:14.68px">Normalized Average Intensity</text>
<text x="178.6" y="304.7" text-anchor="middle" class="cap">(<tspan font-weight="bold">a</tspan>)</text>
<text x="558.4" y="304.7" text-anchor="middle" class="cap">(<tspan font-weight="bold">b</tspan>)</text>
</svg>
</body></html>
